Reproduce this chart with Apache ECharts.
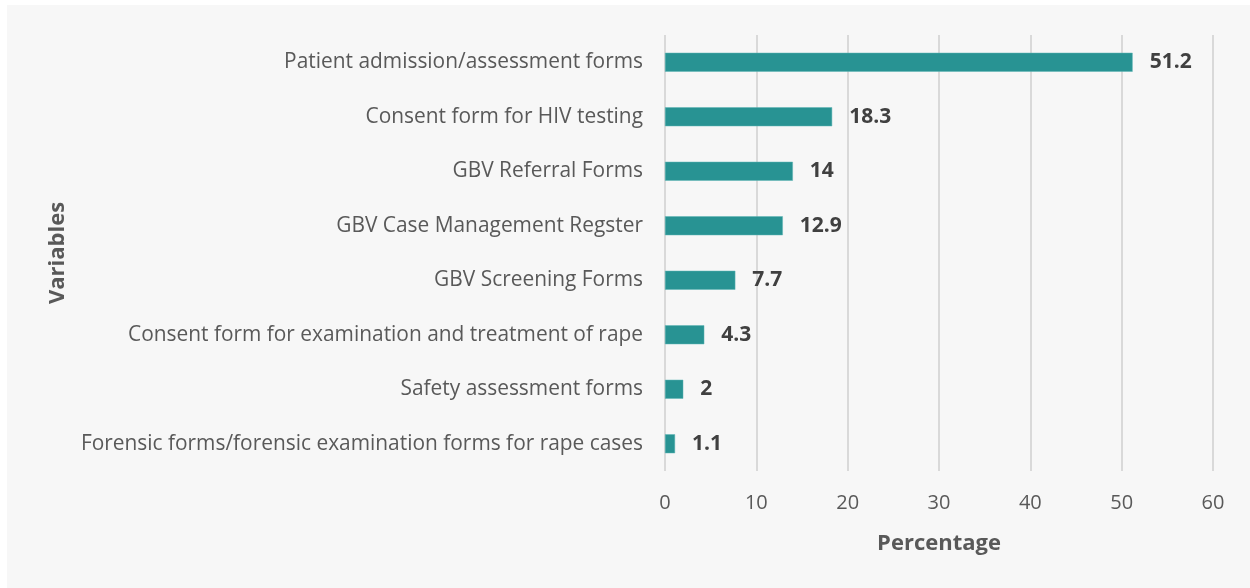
<!DOCTYPE html>
<html lang="en">
<head>
    <meta charset="UTF-8">
    <title>Variables by percentage</title>
    <style>
        body {
            margin: 0px;
            padding: 0px;
            background: #ffffff;
        }

        #chart {
            position: absolute;
            left: 7px;
            top: 5px;
            width: 1243px;
            height: 583px;
        }
    </style>
</head>
<body>
    <div id="chart"></div>
    <script src="https://cdn.jsdelivr.net/npm/echarts@6/dist/echarts.min.js"></script>
    <script>
        var categories = [
            'Forensic forms/forensic examination forms for rape cases',
            'Safety assessment forms',
            'Consent form for examination and treatment of rape',
            'GBV Screening Forms',
            'GBV Case Management Regster',
            'GBV Referral Forms',
            'Consent form for HIV testing',
            'Patient admission/assessment forms'
        ];
        var values = [1.1, 2, 4.3, 7.7, 12.9, 14, 18.3, 51.2];

        var fontFamily = '"Open Sans", Lato, sans-serif';

        var myChart = echarts.init(document.getElementById('chart'));
        var option = {
            backgroundColor: '#f7f7f7',
            textStyle: { fontFamily: fontFamily },
            grid: {
                left: 658,
                top: 30,
                width: 548,
                height: 436
            },
            xAxis: {
                type: 'value',
                min: 0,
                max: 60,
                interval: 10,
                name: 'Percentage',
                nameLocation: 'middle',
                nameGap: 62,
                nameTextStyle: { fontSize: 22, fontWeight: 'bold', color: '#595959', fontFamily: fontFamily },
                axisLine: { show: false },
                axisTick: { show: false },
                axisLabel: { fontSize: 20, color: '#595959', margin: 22, fontFamily: fontFamily },
                splitLine: { lineStyle: { color: '#d9d9d9', width: 2 } }
            },
            yAxis: {
                type: 'category',
                data: categories,
                name: 'Variables',
                nameLocation: 'middle',
                nameGap: 596,
                nameRotate: 90,
                nameTextStyle: { fontSize: 22, fontWeight: 'bold', color: '#595959', fontFamily: fontFamily },
                axisLine: { show: false },
                axisTick: { show: false },
                axisLabel: { fontSize: 20.9, color: '#595959', margin: 22, fontFamily: fontFamily }
            },
            series: [{
                type: 'bar',
                data: values,
                barWidth: 19,
                itemStyle: { color: '#289393', borderColor: '#5fb5b5', borderWidth: 0.5 },
                label: {
                    show: true,
                    position: 'right',
                    distance: 17,
                    fontSize: 21,
                    fontWeight: 'bold',
                    color: '#404040',
                    fontFamily: fontFamily
                }
            }]
        };
        myChart.setOption(option);
    </script>
</body>
</html>
